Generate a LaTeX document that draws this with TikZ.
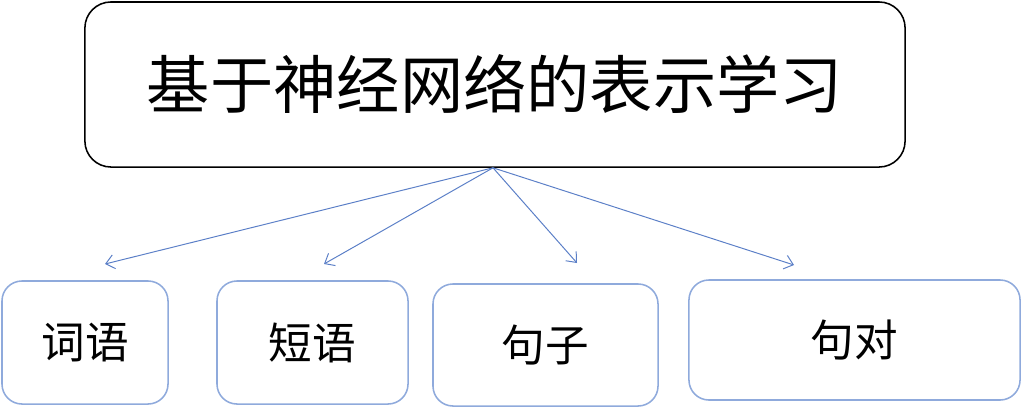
\documentclass[tikz,border=0pt]{standalone}
\usepackage{fontspec}
\usepackage{xcolor}
\usepackage{tikz}
\usetikzlibrary{arrows.meta}
\newfontfamily\cjkfont{Noto Sans CJK SC}
\definecolor{arrowblue}{HTML}{5B7FC7}
\definecolor{boxblue}{HTML}{8FAADC}

\begin{document}
\begin{tikzpicture}[x=0.025cm,y=-0.025cm,
  topbox/.style={draw=black,line width=1.1pt,rounded corners=0.65cm,inner sep=0pt,
    minimum width=20.5cm,minimum height=4.125cm,font=\cjkfont\fontsize{45}{54}\selectfont},
  itembox/.style={draw=boxblue,line width=1.1pt,rounded corners=0.5cm,inner sep=0pt,
    font=\cjkfont\fontsize{31}{37}\selectfont},
  link/.style={draw=arrowblue,line width=0.7pt,-{Straight Barb[length=6pt,width=10pt]}}
]
\useasboundingbox (0,0) rectangle (1024,408);
\node[topbox] (repr) at (495,84.5) {基于神经网络的表示学习};
\node[itembox,minimum width=4.15cm,minimum height=3.075cm] (word) at (85,342.5) {词语};
\node[itembox,minimum width=4.775cm,minimum height=3.075cm] (phrase) at (312.5,342.5) {短语};
\node[itembox,minimum width=5.625cm,minimum height=3.05cm] (sent) at (545.5,345) {句子};
\node[itembox,minimum width=8.275cm,minimum height=3cm] (pair) at (854.5,340) {句对};
% free ends of the arrows
\coordinate (word-in) at (105,264);
\coordinate (phrase-in) at (324,264);
\coordinate (sent-in) at (577,263);
\coordinate (pair-in) at (794,265);
\foreach \t in {word-in,phrase-in,sent-in,pair-in}
  \draw[link] ([xshift=-0.05cm]repr.south) -- (\t);
\end{tikzpicture}
\end{document}
